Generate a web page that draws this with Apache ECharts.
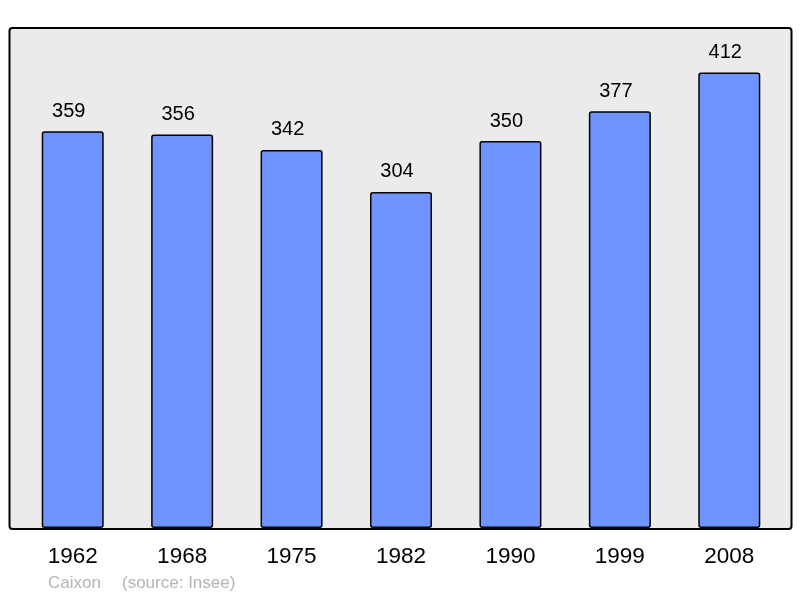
<!DOCTYPE html>
<html lang="fr">
<head>
    <meta charset="UTF-8">
    <title>Caixon population</title>
    <style>
        html,body{
            margin: 0;
            padding: 0;
            background: #fff;
        }
        #chartmain{
            width: 800px;
            height: 598px;
        }
    </style>
</head>
<body>
<div id="chartmain"></div>
<script src="https://cdn.jsdelivr.net/npm/echarts@6/dist/echarts.min.js"></script>
<script type="text/javascript">
    // données
    var years = ['1962', '1968', '1975', '1982', '1990', '1999', '2008'];
    var population = [359, 356, 342, 304, 350, 377, 412];
    var yMax = 453.2;

    var myChart = echarts.init(document.getElementById('chartmain'));
    var option = {
        animation: false,
        backgroundColor: '#ffffff',
        textStyle: { fontFamily: 'Liberation Sans, Arial, sans-serif' },
        graphic: [{
            type: 'rect',
            left: 8.5,
            top: 27,
            shape: { width: 782, height: 501, r: 3 },
            style: { fill: '#ebebeb', stroke: '#000', lineWidth: 2 },
            z: -10
        }, {
            type: 'text',
            left: 48,
            top: 575,
            style: {
                text: 'Caixon',
                fill: '#b4b4b4',
                font: '17px Liberation Sans, Arial, sans-serif'
            }
        }, {
            type: 'text',
            left: 122,
            top: 575,
            style: {
                text: '(source: Insee)',
                fill: '#b4b4b4',
                font: '17px Liberation Sans, Arial, sans-serif'
            }
        }],
        grid: { left: 18, right: 16, top: 27, bottom: 70, containLabel: false },
        xAxis: {
            type: 'category',
            data: years,
            axisLine: { show: false },
            axisTick: { show: false },
            axisLabel: { color: '#000', fontSize: 22.5, margin: 17 }
        },
        yAxis: {
            type: 'value',
            min: 0,
            max: yMax,
            show: false,
            splitLine: { show: false }
        },
        series: [{
            type: 'bar',
            data: population,
            barWidth: 62,
            itemStyle: {
                color: '#7094ff',
                borderColor: '#000',
                borderWidth: 1.5,
                borderRadius: 2
            },
            label: {
                show: true,
                position: 'top',
                distance: 10,
                offset: [-4, 0],
                color: '#000',
                fontSize: 20
            }
        }]
    };
    myChart.setOption(option);
</script>
</body>
</html>
